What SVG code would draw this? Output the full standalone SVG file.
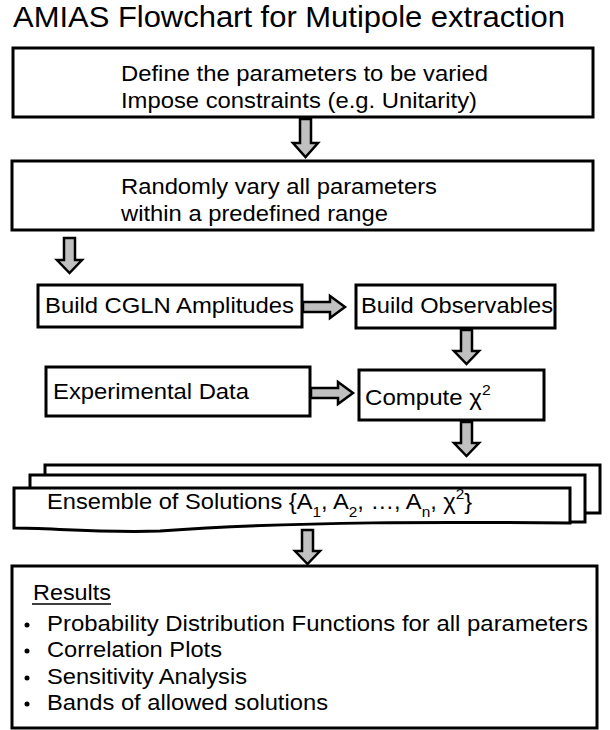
<svg xmlns="http://www.w3.org/2000/svg" width="610" height="730" viewBox="0 0 610 730">
<style>
.box{fill:#fff;stroke:#000;stroke-width:3}
.t{font-family:"Liberation Sans",Arial,sans-serif;font-size:21.5px;fill:#000}
.title{font-family:"Liberation Sans",Arial,sans-serif;font-size:29px;fill:#000}
.arr{fill:#c0c0c0;stroke:#000;stroke-width:2.5;stroke-linejoin:miter}
.sub{font-size:14px}
</style>
<rect width="610" height="730" fill="#fff"/>
<text class="title" x="13" y="27" textLength="552" lengthAdjust="spacingAndGlyphs">AMIAS Flowchart for Mutipole extraction</text>

<g id="n1">
<rect class="box" x="13" y="48" width="580" height="69"/>
<text class="t" x="121" y="81" textLength="367" lengthAdjust="spacingAndGlyphs">Define the parameters to be varied</text>
<text class="t" x="121" y="108" textLength="356" lengthAdjust="spacingAndGlyphs">Impose constraints (e.g. Unitarity)</text>
</g>
<g id="n2">
<rect class="box" x="12" y="161" width="581" height="69"/>
<text class="t" x="121" y="194" textLength="316" lengthAdjust="spacingAndGlyphs">Randomly vary all parameters</text>
<text class="t" x="121" y="221" textLength="267" lengthAdjust="spacingAndGlyphs">within a predefined range</text>
</g>
<g id="n3">
<rect class="box" x="38" y="285" width="264" height="42"/>
<text class="t" x="45" y="313" textLength="249" lengthAdjust="spacingAndGlyphs">Build CGLN Amplitudes</text>
</g>
<g id="n4">
<rect class="box" x="356" y="285" width="199" height="43"/>
<text class="t" x="361" y="313" textLength="192" lengthAdjust="spacingAndGlyphs">Build Observables</text>
</g>
<g id="n5">
<rect class="box" x="46" y="367" width="264" height="49"/>
<text class="t" x="53" y="399" textLength="196" lengthAdjust="spacingAndGlyphs">Experimental Data</text>
</g>
<g id="n6">
<rect class="box" x="359" y="370" width="185" height="50"/>
<text class="t" transform="translate(365,405) scale(1.12,1)">Compute χ<tspan class="sub" dy="-10">2</tspan></text>
</g>
<g id="n7">
<path class="box" d="M45,513 V465 H600 V513 Z"/>
<path class="box" d="M30,522 V475 H585 V522 Z"/>
<path class="box" d="M14,528 V488 H570 V523 C450,522 300,521 160,531 C100,533 50,528 14,528 Z"/>
<text class="t" transform="translate(47,509) scale(1.1,1)">Ensemble of Solutions {A<tspan class="sub" dy="8">1</tspan><tspan dy="-8">, A</tspan><tspan class="sub" dy="8">2</tspan><tspan dy="-8">, …, A</tspan><tspan class="sub" dy="8">n</tspan><tspan dy="-8">, χ</tspan><tspan class="sub" dy="-10">2</tspan><tspan dy="10">}</tspan></text>
</g>
<g id="n8">
<rect class="box" x="12" y="566" width="585" height="162"/>
<text class="t" x="33" y="600" textLength="78" lengthAdjust="spacingAndGlyphs">Results</text>
<line x1="32" y1="604" x2="111" y2="604" stroke="#000" stroke-width="1.5"/>
<g class="t">
<circle cx="27" cy="625" r="2.5"/>
<circle cx="27" cy="651" r="2.5"/>
<circle cx="27" cy="678" r="2.5"/>
<circle cx="27" cy="704" r="2.5"/>
</g>
<text class="t" x="47" y="631" textLength="541" lengthAdjust="spacingAndGlyphs">Probability Distribution Functions for all parameters</text>
<text class="t" x="47" y="657" textLength="175" lengthAdjust="spacingAndGlyphs">Correlation Plots</text>
<text class="t" x="47" y="684" textLength="200" lengthAdjust="spacingAndGlyphs">Sensitivity Analysis</text>
<text class="t" x="47" y="710" textLength="281" lengthAdjust="spacingAndGlyphs">Bands of allowed solutions</text>
</g>

<g id="connectors">
<path class="arr" d="M300,119 H311 V143 H318 L305.5,157 L293,143 H300 Z"/>
<path class="arr" d="M64,238 H75 V260 H82 L69.5,273 L57,260 H64 Z"/>
<path class="arr" d="M303,302 H330 V296 L345,307 L330,318 V312 H303 Z"/>
<path class="arr" d="M461,330 H472 V351 H479 L466.5,364 L454,351 H461 Z"/>
<path class="arr" d="M311,388 H338 V382 L353,393 L338,404 V398 H311 Z"/>
<path class="arr" d="M461,422 H472 V443 H479 L466.5,456 L454,443 H461 Z"/>
<path class="arr" d="M302,530 H313 V551 H320 L307.5,564 L295,551 H302 Z"/>
</g>
</svg>
